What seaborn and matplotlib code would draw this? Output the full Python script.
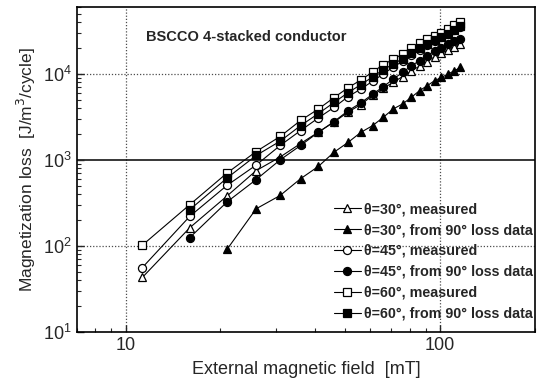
import matplotlib
matplotlib.use("Agg")
import matplotlib.pyplot as plt
import seaborn as sns
import pandas as pd
from matplotlib.ticker import LogLocator, NullFormatter, FixedFormatter

# External field [mT]
field = [11.3, 16, 21, 26, 31, 36, 41, 46, 51, 56, 61, 66, 71, 76, 81, 86, 91, 96, 101, 106, 111, 116]

# Magnetization loss [J/m^3/cycle]
t30_meas = [43, 163, 380, 750, 1080, 1550, 2100, 2750, 3600, 4400, 5600, 6800, 8000, 9300,
            10800, 12300, 13800, 15800, 17300, 18800, 20500, 22100]
t30_calc = [None, None, 91, 270, 386, 604, 839, 1228, 1600, 2090, 2500, 3130, 3910, 4470,
            5330, 6370, 7280, 8320, 9080, 9950, 10860, 11860]
t45_meas = [56, 221, 505, 870, 1470, 2190, 3070, 4080, 5430, 6670, 8200, 10000, 12000, 14000,
            16500, 19000, 21500, 24000, 26500, 29000, 32000, 35000]
t45_calc = [None, 125, 324, 590, 1000, 1470, 2090, 2790, 3730, 4600, 5800, 7100, 8700, 10400,
            12400, 14200, 16200, 18500, 20200, 22100, 24200, 25300]
t60_meas = [102, 302, 702, 1250, 1870, 2870, 3900, 5300, 6900, 8500, 10500, 12800, 14800, 17000,
            20000, 22800, 25300, 27800, 30200, 33000, 36800, 40400]
t60_calc = [None, 264, 614, 1125, 1650, 2500, 3450, 4650, 6050, 7500, 9200, 11200, 13000, 15000,
            17600, 20000, 22300, 24500, 26600, 29000, 32400, 35500]

series = [
    ("θ=30°, measured", t30_meas, "^", "white"),
    ("θ=30°, from 90° loss data", t30_calc, "^", "black"),
    ("θ=45°, measured", t45_meas, "o", "white"),
    ("θ=45°, from 90° loss data", t45_calc, "o", "black"),
    ("θ=60°, measured", t60_meas, "s", "white"),
    ("θ=60°, from 90° loss data", t60_calc, "s", "black"),
]

sns.set_style("ticks")
plt.rcParams["font.family"] = ["Liberation Sans", "DejaVu Sans"]

fig = plt.figure(figsize=(5.38, 3.82), dpi=100)
ax = fig.add_axes([0.143, 0.131, 0.851, 0.851])

# reference lines (drawn first so markers sit on top)
dots = dict(color="0.3", lw=0.9, ls=(0, (1, 1.5)), zorder=0)
ax.axvline(10, **dots)
ax.axvline(100, **dots)
ax.axhline(100, **dots)
ax.axhline(1e4, **dots)
ax.axhline(1e3, color="black", lw=1.1, zorder=0)

for name, vals, mk, fc in series:
    df = pd.DataFrame({"field": field, "loss": vals}).dropna()
    sns.lineplot(data=df, x="field", y="loss", ax=ax, color="black", lw=0.8,
                 marker=mk, markersize=6.2 if mk != "o" else 5.8, markerfacecolor=fc,
                 markeredgecolor="black", markeredgewidth=0.9, label=name)

ax.set_xscale("log")
ax.set_yscale("log")
ax.set_xlim(7, 200)
ax.set_ylim(10, 6e4)

ax.set_xticks([10, 100])
ax.xaxis.set_major_formatter(FixedFormatter(["10", "100"]))
ax.xaxis.set_minor_locator(LogLocator(base=10, subs=range(2, 10)))
ax.xaxis.set_minor_formatter(NullFormatter())
ax.yaxis.set_minor_locator(LogLocator(base=10, subs=range(2, 10)))
ax.yaxis.set_minor_formatter(NullFormatter())
ax.tick_params(which="major", direction="in", length=5, width=1, labelsize=13)
ax.tick_params(which="minor", direction="in", length=3, width=0.8)

for sp in ax.spines.values():
    sp.set_color("black")
    sp.set_linewidth(1.2)

ax.set_xlabel("External magnetic field  [mT]", fontsize=13, labelpad=5)
ax.set_ylabel("Magnetization loss  [J/m$^3$/cycle]", fontsize=12.5, labelpad=4)

ax.text(0.151, 0.908, "BSCCO 4-stacked conductor", transform=ax.transAxes,
        fontsize=10.5, fontweight="bold", va="center")

leg = ax.legend(loc="lower right", bbox_to_anchor=(0.997, 0.035), frameon=False,
                fontsize=10.3, handlelength=1.9, handletextpad=0.25,
                labelspacing=0.48, borderaxespad=0, borderpad=0)
for t in leg.get_texts():
    t.set_fontweight("bold")

fig.savefig("out.png", dpi=100)
